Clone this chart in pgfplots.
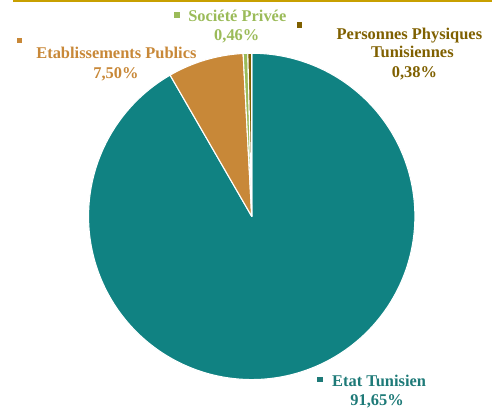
\documentclass[border=0pt]{standalone}
\usepackage{pgfplots}
\usepackage{pgfplotstable}
\pgfplotsset{compat=1.18}
\usepackage{fontspec}
\setmainfont{Liberation Serif}
\definecolor{cteal}{RGB}{16,130,130}
\definecolor{cteallab}{RGB}{30,122,120}
\definecolor{cochre}{RGB}{200,136,56}
\definecolor{cgreen}{RGB}{155,187,89}
\definecolor{colive}{RGB}{127,96,0}
\definecolor{cgold}{RGB}{200,160,0}

\pgfplotstableread{
label value
Etat 91.65
Etab 7.50
Soc 0.46
Pers 0.38
}\piedata

\begin{document}
\pgfplotstablegetelem{0}{value}\of\piedata \let\vA\pgfplotsretval
\pgfplotstablegetelem{1}{value}\of\piedata \let\vB\pgfplotsretval
\pgfplotstablegetelem{2}{value}\of\piedata \let\vC\pgfplotsretval
\pgfplotstablegetelem{3}{value}\of\piedata \let\vD\pgfplotsretval
\pgfmathsetmacro\tot{\vA+\vB+\vC+\vD}
\pgfmathsetmacro\aA{(\vA/\tot)*360}
\pgfmathsetmacro\aB{\aA+(\vB/\tot)*360}
\pgfmathsetmacro\aC{\aB+(\vC/\tot)*360}
\def\cx{251.5}\def\cy{219}\def\rx{164}\def\ry{164}
\begin{tikzpicture}
\begin{axis}[
  width=493pt, height=412pt, scale only axis,
  xmin=0, xmax=493, ymin=0, ymax=412, y dir=reverse,
  hide axis, clip=false,
  every axis plot/.append style={draw=white, line width=1.1pt, line join=round},
]
\addplot[fill=cteal, domain=0:\aA, samples=240, variable=\t]
  ({\cx+\rx*sin(\t)},{\cy-\ry*cos(\t)}) -- (axis cs:\cx,\cy) -- cycle;
\addplot[fill=cochre, domain=\aA:\aB, samples=40, variable=\t]
  ({\cx+\rx*sin(\t)},{\cy-\ry*cos(\t)}) -- (axis cs:\cx,\cy) -- cycle;
\addplot[fill=cgreen, domain=\aB:\aC, samples=10, variable=\t]
  ({\cx+\rx*sin(\t)},{\cy-\ry*cos(\t)}) -- (axis cs:\cx,\cy) -- cycle;
\addplot[fill=colive, domain=\aC:360, samples=10, variable=\t]
  ({\cx+\rx*sin(\t)},{\cy-\ry*cos(\t)}) -- (axis cs:\cx,\cy) -- cycle;
\addplot[draw=cgold, line width=2pt] coordinates {(12,2.5) (493,2.5)};

\begin{scope}[every node/.style={font=\fontsize{16.5}{19.5}\selectfont\bfseries, inner sep=0pt, anchor=base}]
\node[text=cochre] at (axis cs:115.5,60) {Etablissements Publics};
\node[text=cochre] at (axis cs:115,80) {7,50\%};
\node[text=cgreen] at (axis cs:237,23) {Société Privée};
\node[text=cgreen] at (axis cs:236.5,42) {0,46\%};
\node[text=colive] at (axis cs:410,41.5) {Personnes Physiques};
\node[text=colive] at (axis cs:413,59) {Tunisiennes};
\node[text=colive] at (axis cs:415,79.5) {0,38\%};
\node[text=cteallab] at (axis cs:379.5,390) {Etat Tunisien};
\node[text=cteallab] at (axis cs:377.5,409) {91,65\%};
\end{scope}
\begin{scope}[every node/.style={inner sep=0pt, anchor=center}]
\node at (axis cs:18,42) {\textcolor{cochre}{\rule{5.5pt}{5.5pt}}};
\node at (axis cs:176.5,16.5) {\textcolor{cgreen}{\rule{5.5pt}{5.5pt}}};
\node at (axis cs:299.5,26.5) {\textcolor{colive}{\rule{5.5pt}{5.5pt}}};
\node at (axis cs:320,383) {\textcolor{cteallab}{\rule{5.5pt}{5.5pt}}};
\end{scope}
\end{axis}
\end{tikzpicture}
\end{document}
